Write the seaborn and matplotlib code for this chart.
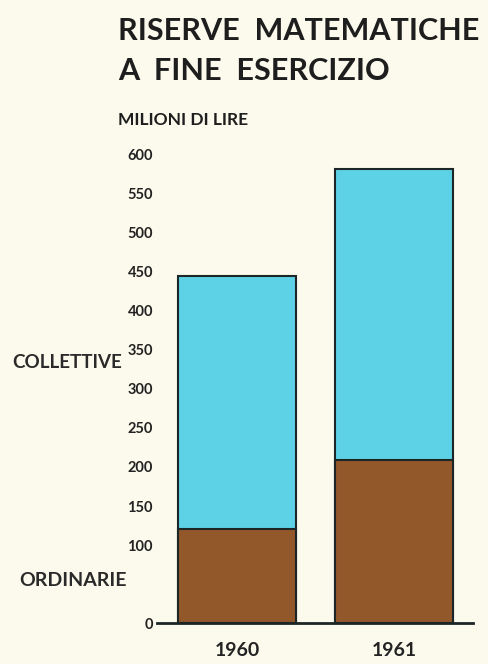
import numpy as np
import pandas as pd
import seaborn as sns
import matplotlib.pyplot as plt

# dati (milioni di lire)
anni = ["1960", "1961"]
ordinarie = [120, 209]
collettive = [325, 373]
tick_valori = [0, 100, 150, 200, 250, 300, 350, 400, 450, 500, 550, 600]

sns.set_theme(style="white")
plt.rcParams['font.family'] = ['Lato', 'DejaVu Sans']

df = pd.DataFrame({"anno": anni, "ordinarie": ordinarie, "collettive": collettive})
df["totale"] = df["ordinarie"] + df["collettive"]

sfondo = "#fcfaec"
ciano = "#5dd2e6"
marrone = "#93582a"
bordo = "#1c2626"

fig = plt.figure(figsize=(4.88, 6.64), dpi=100, facecolor=sfondo)
ax = fig.add_axes([0.322, 0.0617, 0.647, 0.705])
ax.set_facecolor(sfondo)

sns.barplot(data=df, x="anno", y="totale", color=ciano, edgecolor=bordo,
            linewidth=1.5, width=0.75, saturation=1, ax=ax)
sns.barplot(data=df, x="anno", y="ordinarie", color=marrone, edgecolor=bordo,
            linewidth=1.5, width=0.75, saturation=1, ax=ax)

ax.set_xlim(-0.51, 1.50)
ax.set_ylim(0, 600)
ax.set_xlabel("")
ax.set_ylabel("")
ax.set_yticks(tick_valori)
ax.set_yticklabels([str(v) for v in tick_valori], fontsize=10.5, fontweight="bold", color="#222222")
ax.tick_params(axis="y", length=0, pad=3)
ax.tick_params(axis="x", length=0, pad=14, labelsize=14)
for lab in ax.get_xticklabels():
    lab.set_fontweight("bold")
    lab.set_color("#222222")

for s in ["top", "right", "left"]:
    ax.spines[s].set_visible(False)
ax.spines["bottom"].set_color(bordo)
ax.spines["bottom"].set_linewidth(2)

fig.text(118 / 488, 1 - 31 / 664, "RISERVE  MATEMATICHE", fontsize=22, fontweight="bold",
         color="#1e1e1e", va="center", ha="left")
fig.text(118 / 488, 1 - 71 / 664, "A  FINE  ESERCIZIO", fontsize=22, fontweight="bold",
         color="#1e1e1e", va="center", ha="left")
fig.text(118 / 488, 1 - 120 / 664, "MILIONI DI LIRE", fontsize=12.5, fontweight="bold",
         color="#1e1e1e", va="center", ha="left")

fig.text(122 / 488, 1 - 362 / 664, "COLLETTIVE", fontsize=13.5, fontweight="bold",
         color="#2a2a2a", va="center", ha="right")
fig.text(127 / 488, 1 - 580 / 664, "ORDINARIE", fontsize=14, fontweight="bold",
         color="#2a2a2a", va="center", ha="right")

fig.savefig("out.png", dpi=100, facecolor=sfondo)
